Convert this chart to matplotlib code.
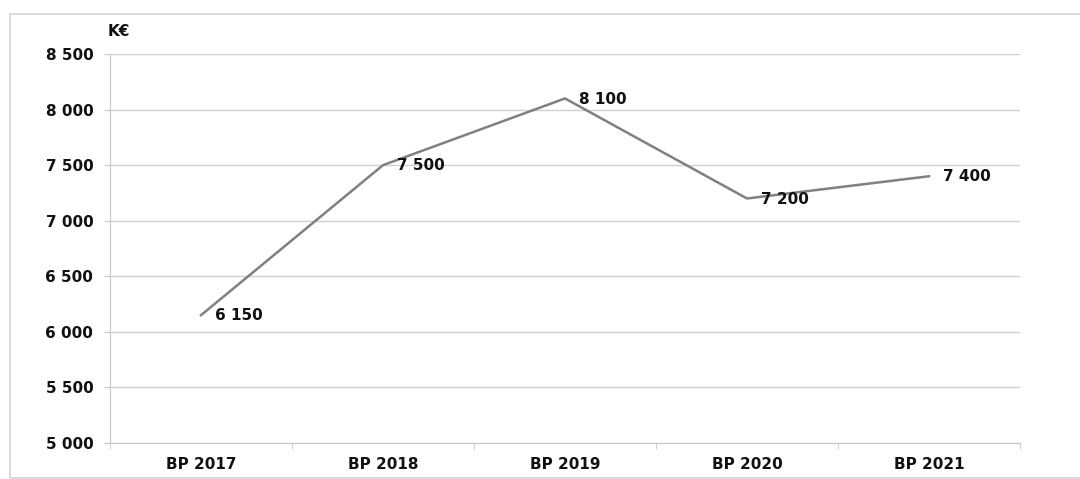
import matplotlib.pyplot as plt
from matplotlib.patches import Rectangle
from matplotlib.ticker import FuncFormatter, MultipleLocator

# =========================================================
# Data
# =========================================================

years = ["BP 2017", "BP 2018", "BP 2019", "BP 2020", "BP 2021"]
values = [6150, 7500, 8100, 7200, 7400]


def fmt_k(v, pos=None):
    # thousands separated with a space
    return f"{int(v):,}".replace(",", " ")


# =========================================================
# Figure
# =========================================================

plt.rcParams["font.family"] = "DejaVu Sans"

fig = plt.figure(figsize=(10.8, 4.79), dpi=100)
ax = fig.add_axes([110 / 1080, 1 - 443 / 479, 910 / 1080, 389 / 479])

# outer frame
fig.patches.append(
    Rectangle((10 / 1080, 1 / 479), 1.2, 1 - 15 / 479,
              transform=fig.transFigure, fill=False,
              edgecolor="#d4d4d4", linewidth=1.2)
)

x = list(range(len(years)))
ax.plot(x, values, color="#808080", linewidth=1.8)

for xi, v in zip(x, values):
    ax.annotate(
        fmt_k(v), (xi, v),
        xytext=(10, -0.5), textcoords="offset points",
        ha="left", va="center",
        fontsize=11, fontweight="bold", color="#111111",
    )

ax.set_xlim(-0.5, len(years) - 0.5)
ax.set_ylim(5000, 8500)
ax.yaxis.set_major_locator(MultipleLocator(500))
ax.yaxis.set_major_formatter(FuncFormatter(fmt_k))

ax.set_xticks(x)
ax.set_xticklabels(years)
ax.set_xticks([i + 0.5 for i in range(-1, len(years))], minor=True)

ax.grid(True, axis="y", color="#d0d0d0", linewidth=1)
ax.set_axisbelow(True)

for side in ["top", "right"]:
    ax.spines[side].set_visible(False)
for side in ["left", "bottom"]:
    ax.spines[side].set_color("#c8c8c8")

ax.tick_params(axis="y", length=4, color="#c8c8c8", labelsize=11, pad=8)
ax.tick_params(axis="x", which="major", length=0, labelsize=11, pad=10)
ax.tick_params(axis="x", which="minor", length=4, color="#c8c8c8")
for lab in ax.get_xticklabels() + ax.get_yticklabels():
    lab.set_fontweight("bold")
    lab.set_color("#111111")

fig.text(108 / 1080, 1 - 31 / 479, "K€", fontsize=11, fontweight="bold",
         color="#111111", ha="left", va="center")

fig.savefig("out.png", dpi=100)
